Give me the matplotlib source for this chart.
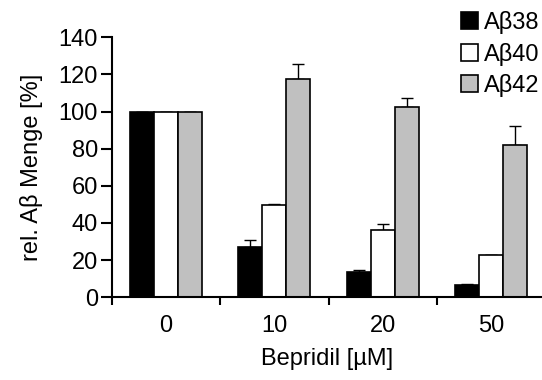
import numpy as np
import matplotlib.pyplot as plt

plt.rcParams['font.family'] = ['Liberation Sans', 'DejaVu Sans']

doses = ['0', '10', '20', '50']
series = ['Aβ38', 'Aβ40', 'Aβ42']
ab38 = [100, 26.8, 13.6, 6.4]
ab38_err = [0, 4.2, 0.9, 0.6]
ab40 = [100, 49.6, 36.3, 22.5]
ab40_err = [0, 0.5, 3.3, 0.2]
ab42 = [100, 117.6, 102.2, 81.7]
ab42_err = [0, 8.0, 5.3, 10.5]
colors = ['black', 'white', '#c0c0c0']

fs = 17

fig = plt.figure(figsize=(5.42, 3.8), dpi=100)
ax = fig.add_axes([0.2066, 0.218, 0.795, 0.684])

x = np.arange(len(doses))
w = 0.222
for i, (vals, errs) in enumerate([(ab38, ab38_err), (ab40, ab40_err), (ab42, ab42_err)]):
    ax.bar(x + (i - 1) * w, vals, w, color=colors[i], edgecolor='black', linewidth=1.2,
           label=series[i], zorder=2)
    ax.errorbar(x + (i - 1) * w, vals, yerr=[np.zeros(len(errs)), errs], fmt='none',
                ecolor='black', elinewidth=1, capsize=4, capthick=1, zorder=1)

ax.set_xlim(-0.5, 3.48)
ax.set_ylim(0, 140)
ax.set_yticks(np.arange(0, 141, 20))
ax.set_xticks([-0.5, 0.5, 1.5, 2.5])
ax.set_xticklabels([])
ax.set_xticks(x, minor=True)
ax.set_xticklabels(doses, minor=True)
ax.tick_params(axis='x', which='major', length=6, width=1.5, direction='out')
ax.tick_params(axis='x', which='minor', length=0, pad=13, labelsize=fs)
ax.tick_params(axis='y', length=8, width=1.5, labelsize=fs, pad=2)
for s in ['top', 'right']:
    ax.spines[s].set_visible(False)
for s in ['left', 'bottom']:
    ax.spines[s].set_linewidth(1.5)

ax.set_xlabel('Bepridil [µM]', fontsize=fs, labelpad=7.5)
ax.set_ylabel('rel. Aβ Menge [%]', fontsize=fs, labelpad=11)

leg = fig.legend(loc='upper right', bbox_to_anchor=(0.996, 0.971), frameon=False, fontsize=fs,
                 handlelength=0.72, handleheight=0.72, handletextpad=0.25, labelspacing=0.36,
                 borderaxespad=0, borderpad=0)

fig.savefig('out.png', dpi=100)
